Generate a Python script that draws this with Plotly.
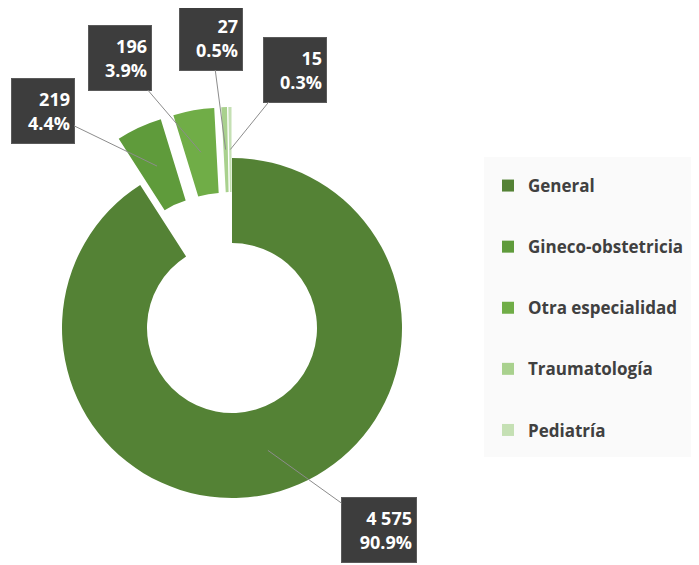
import math
import plotly.graph_objects as go

categories = ["General", "Gineco-obstetricia", "Otra especialidad", "Traumatología", "Pediatría"]
values = [4575, 219, 196, 27, 15]
colors = ["#548235", "#5f9b3b", "#70ad47", "#a9d18e", "#c5e0b4"]
pulls = [0, 0.3, 0.3, 0.3, 0.3]

# the page body adds an 8 px margin, so the figure is drawn 8 px smaller
OFF = 8
W, H = 699 - OFF, 565 - OFF


def px_x(x):
    return (x - OFF) / W


def px_y(y):
    return 1 - (y - OFF) / H


dom_x = [px_x(11), px_x(453)]
dom_y = [px_y(549), px_y(107)]
hole = 0.5

# label box centres (page pixels) and widths
box_centres = [(379, 530), (42.5, 110.5), (120, 57.5), (211, 37.5), (295, 69.5)]
box_widths = [66, 54, 54, 54, 54]

fig = go.Figure()
fig.add_trace(go.Pie(
    labels=categories, values=values, hole=hole, sort=False,
    direction="clockwise", rotation=0, pull=pulls,
    marker=dict(colors=colors, line=dict(width=0)),
    textinfo="none", hoverinfo="label+value+percent",
    domain=dict(x=dom_x, y=dom_y), showlegend=False,
))

# legend-only entries
for i, (c, col) in enumerate(zip(categories, colors)):
    fig.add_trace(go.Scatter(
        x=[None], y=[None], mode="markers", name=c, legendgroup=f"g{i}",
        marker=dict(symbol="square", size=11, color=col),
    ))

# geometry as computed by plotly.js (page pixels)
bw = W * (dom_x[1] - dom_x[0])
bh = H * (dom_y[1] - dom_y[0])
r = min(bw, bh) / (2 + 2 * max(pulls))
cx = OFF + W * (dom_x[0] + dom_x[1]) / 2
cy = OFF + H * (1 - dom_y[0]) - bh / 2

total = sum(values)
cum = 0
annotations = []
for i, v in enumerate(values):
    frac = v / total
    mid = (cum + frac / 2) * 2 * math.pi
    cum += frac
    rad = r * (1 + hole) / 2 + pulls[i] * r
    tx = cx + rad * math.sin(mid)
    ty = cy - rad * math.cos(mid)
    bx, by = box_centres[i]
    num = f"{v:,}".replace(",", " ")
    pct = f"{frac * 100:.1f}%"
    annotations.append(dict(
        x=px_x(tx), y=px_y(ty), xref="paper", yref="paper",
        ax=bx - tx, ay=by - ty, axref="pixel", ayref="pixel",
        text=f"<b>{num}</b><br><b>{pct}</b>", align="right",
        font=dict(family="Open Sans", size=18, color="#ffffff"),
        bgcolor="#3d3d3d", bordercolor="#5a5a5a", borderwidth=1, borderpad=4,
        width=box_widths[i], height=56,
        showarrow=True, arrowhead=0, arrowwidth=1, arrowcolor="#8c8c8c",
        standoff=0, startstandoff=0,
    ))

fig.update_layout(
    width=W, height=H,
    margin=dict(l=0, r=0, t=0, b=0),
    paper_bgcolor="#ffffff", plot_bgcolor="rgba(0,0,0,0)",
    xaxis=dict(visible=False), yaxis=dict(visible=False),
    annotations=annotations,
    shapes=[dict(type="rect", xref="paper", yref="paper",
                 x0=px_x(484), x1=1, y0=px_y(457), y1=px_y(157),
                 fillcolor="#fafafa", line=dict(width=0), layer="below")],
    legend=dict(
        x=px_x(488), y=px_y(168), xanchor="left", yanchor="top",
        bgcolor="rgba(0,0,0,0)", tracegroupgap=36, itemsizing="constant",
        font=dict(family="Open Sans", size=17, color="#404040", weight="bold"),
    ),
)

fig.write_html("out.html")
